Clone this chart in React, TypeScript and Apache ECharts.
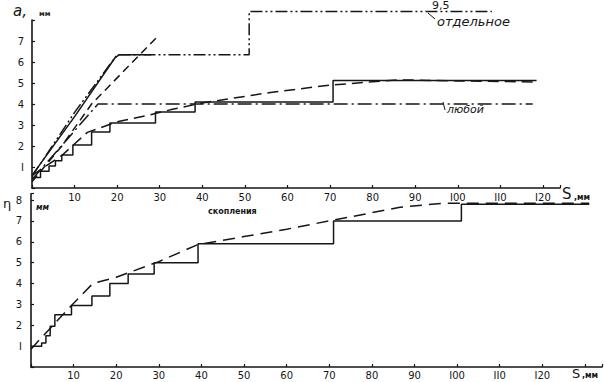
import React, { useEffect, useRef } from "react";
import * as echarts from "echarts";

// ---------- Top panel: a, мм vs S, мм ----------
// solid step line (скопления)
const topStepX = [0, 2, 4, 5.5, 7, 9.6, 14, 18.3, 29, 38.3, 70.7, 118.5];
const topStepY = [0.5, 0.8, 1.05, 1.3, 1.57, 2.05, 2.67, 3.1, 3.62, 4.1, 5.12, 5.12];
// long-dashed smooth line through the steps
const topClusterX = [0, 7, 13, 20, 27, 33, 40, 56, 70, 86, 100, 118.5];
const topClusterY = [0.6, 1.55, 2.65, 3.15, 3.45, 3.75, 4.05, 4.55, 4.9, 5.15, 5.1, 5.05];
// dash-dot-dot line "отдельное" (upper level 9,5 is drawn at the axis break)
const separateX = [0, 10, 20, 51, 51, 108];
const separateY = [0.55, 3.6, 6.35, 6.35, 9.5, 9.5];
const separateBreakValue = 9.5;
const separateBreakDrawLevel = 8.4;
// solid rising line joining the 6.35 level
const solidRiseX = [0, 10, 19.5, 20.5, 28];
const solidRiseY = [0.6, 3.4, 6.2, 6.35, 6.35];
// dash-dot line "любой"
const anyX = [0, 15.5, 117.6];
const anyY = [0.4, 4.0, 4.0];
// dashed steep line
const steepX = [0, 7, 14, 29.6];
const steepY = [0.3, 2.0, 4.0, 7.24];

// ---------- Bottom panel: η, мм vs S, мм ----------
const botStepX = [0, 2.5, 3.5, 4.5, 5.6, 9.5, 14.3, 18.5, 22.8, 28.9, 39.2, 71, 101, 131];
const botStepY = [1.0, 1.15, 1.5, 1.95, 2.5, 2.95, 3.4, 4.0, 4.45, 5.0, 5.9, 7.0, 7.8, 7.8];
const botDashX = [0, 1.3, 9.5, 14.5, 20, 30, 39, 50, 60, 70, 86.6, 97, 131];
const botDashY = [0.85, 1.15, 2.95, 4.0, 4.3, 5.05, 5.85, 6.25, 6.6, 7.0, 7.65, 7.85, 7.85];

const xTickMaxLabel = 120;

const zip = (xs: number[], ys: number[]) => xs.map((x, i) => [x, ys[i]]);
const INK = "#161616";
const FONT = "DejaVu Sans";

const xLabel = (v: number) => {
  if (v === 0 || v > xTickMaxLabel) return "";
  return v >= 100 ? String(v).replace(/1/g, "I") : String(v);
};
const yLabel = (maxShown: number) => (v: number) => {
  if (v === 0 || v > maxShown || Math.abs(Math.round(v) - v) > 1e-6) return "";
  return String(Math.round(v)).replace(/1/g, "I");
};

// bottom panel: 8 units over 167 px, axis extended slightly above 8
const BOT_Y_MAX = 8.3;
const BOT_PX_PER_UNIT = 167 / 8;

const App: React.FC = () => {
  const ref = useRef<HTMLDivElement>(null);
  useEffect(() => {
    if (!ref.current) return;
    const chart = echarts.init(ref.current, undefined, { renderer: "svg" });

    const axisCommon = {
      axisLine: { show: true, lineStyle: { color: INK, width: 1.6 } },
      axisTick: { show: true, inside: true, length: 3, lineStyle: { color: INK, width: 1.2 } },
      splitLine: { show: false },
    };

    const line = (
      data: number[][],
      idx: number,
      type: any,
      extra: any = {}
    ) => ({
      type: "line",
      xAxisIndex: idx,
      yAxisIndex: idx,
      data,
      symbol: "none",
      lineStyle: { color: INK, width: 1.5, type },
      ...extra,
    });

    const separateData = zip(separateX, separateY).map(([x, y]) => [
      x,
      y >= separateBreakValue ? separateBreakDrawLevel : y,
    ]);

    const labelBase = { color: INK, fontSize: 10, fontFamily: FONT, showMaxLabel: true, showMinLabel: true };
    const botHeight = BOT_Y_MAX * BOT_PX_PER_UNIT;

    chart.setOption({
      animation: false,
      backgroundColor: "#ffffff",
      grid: [
        { left: 32, top: 20, width: 528, height: 168, containLabel: false },
        { left: 31, top: 367 - botHeight, width: 571, height: botHeight, containLabel: false },
      ],
      xAxis: [
        {
          type: "value", gridIndex: 0, min: 0, max: 124, interval: 10,
          ...axisCommon,
          axisLabel: { ...labelBase, formatter: xLabel, margin: 4 },
        },
        {
          type: "value", gridIndex: 1, min: 0, max: 134, interval: 10,
          ...axisCommon,
          axisLabel: { ...labelBase, formatter: xLabel, margin: 3 },
        },
      ],
      yAxis: [
        {
          type: "value", gridIndex: 0, min: 0, max: 8, interval: 1,
          ...axisCommon,
          axisLabel: { ...labelBase, formatter: yLabel(7), margin: 8 },
        },
        {
          type: "value", gridIndex: 1, min: 0, max: BOT_Y_MAX, interval: 1,
          ...axisCommon,
          axisLabel: { ...labelBase, formatter: yLabel(8), margin: 9 },
        },
      ],
      series: [
        line(zip(topStepX, topStepY), 0, "solid", { step: "end" }),
        line(zip(topClusterX, topClusterY), 0, [11, 6]),
        line(separateData, 0, [12, 3, 2, 3, 2, 3], { clip: false }),
        line(zip(solidRiseX, solidRiseY), 0, "solid"),
        line(zip(anyX, anyY), 0, [14, 4, 2, 4]),
        line(zip(steepX, steepY), 0, [8, 5]),
        line(zip(botStepX, botStepY), 1, "solid", { step: "end" }),
        line(zip(botDashX, botDashY), 1, [12, 7]),
      ],
      graphic: [
        { type: "text", left: 13, top: 3, style: { text: "a,", fontSize: 15, fontStyle: "italic", fontFamily: FONT, fill: INK } },
        { type: "text", left: 39, top: 10, style: { text: "мм", fontSize: 7, fontWeight: "bold", fontFamily: FONT, fill: INK } },
        { type: "text", left: 432, top: 0, style: { text: "9,5", fontSize: 11, fontFamily: FONT, fill: INK } },
        { type: "line", shape: { x1: 428, y1: 13, x2: 435, y2: 19 }, style: { stroke: INK, lineWidth: 1 } },
        { type: "text", left: 437, top: 15, style: { text: "отдельное", fontSize: 13, fontStyle: "italic", fontFamily: FONT, fill: INK } },
        { type: "line", shape: { x1: 443, y1: 102, x2: 445, y2: 110 }, style: { stroke: INK, lineWidth: 1 } },
        { type: "text", left: 447, top: 104, style: { text: "любой", fontSize: 11, fontStyle: "italic", fontFamily: FONT, fill: INK } },
        { type: "text", left: 208, top: 207, style: { text: "скопления", fontSize: 8, fontWeight: "bold", fontFamily: FONT, fill: INK } },
        { type: "text", left: 562, top: 186, style: { text: "S", fontSize: 15, fontFamily: FONT, fill: INK } },
        { type: "text", left: 574, top: 193, style: { text: ",мм", fontSize: 8, fontWeight: "bold", fontFamily: FONT, fill: INK } },
        { type: "text", left: 3, top: 197, style: { text: "η", fontSize: 13, fontFamily: FONT, fill: INK } },
        { type: "text", left: 36, top: 203, style: { text: "мм", fontSize: 8, fontStyle: "italic", fontWeight: "bold", fontFamily: FONT, fill: INK } },
        { type: "text", left: 572, top: 367, style: { text: "S", fontSize: 13, fontFamily: FONT, fill: INK } },
        { type: "text", left: 582, top: 371, style: { text: ",мм", fontSize: 8, fontWeight: "bold", fontFamily: FONT, fill: INK } },
      ],
    });
    return () => chart.dispose();
  }, []);

  return (
    <div
      ref={ref}
      style={{ position: "fixed", left: 0, top: 0, width: 605, height: 382, background: "#fff" }}
    />
  );
};

export default App;
